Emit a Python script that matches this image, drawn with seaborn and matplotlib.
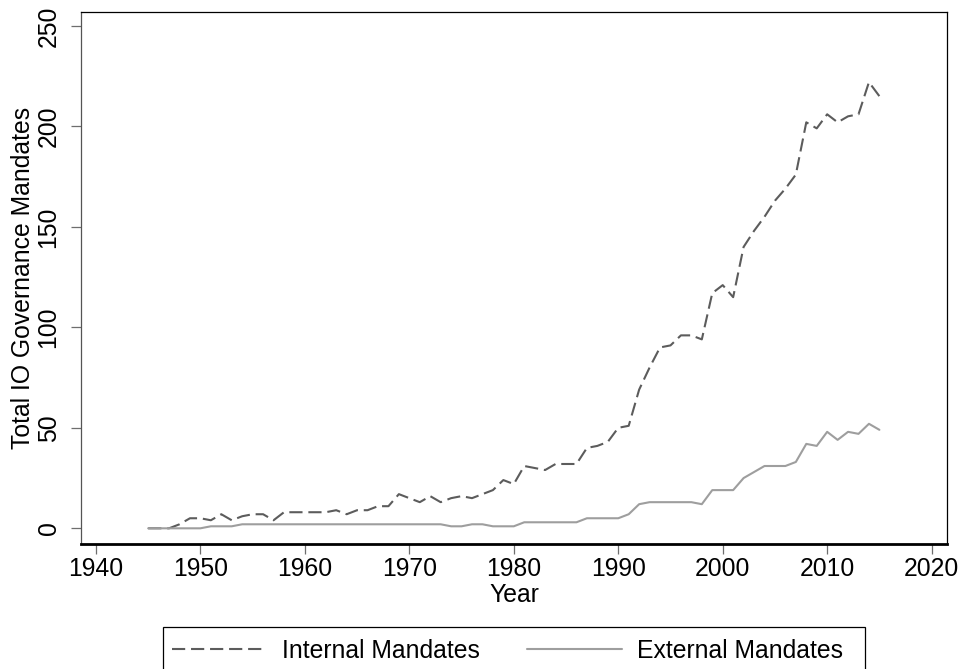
import numpy as np
import pandas as pd
import matplotlib
matplotlib.use("Agg")
import matplotlib.pyplot as plt
from matplotlib.patches import Rectangle
import seaborn as sns

years = list(range(1945, 2016))
internal = [0, 0, 0, 2, 5, 5, 4, 7, 4, 6,
            7, 7, 4, 8, 8, 8, 8, 8, 9, 7,
            9, 9, 11, 11, 17, 15, 13, 16, 13, 15,
            16, 15, 17, 19, 24, 22, 31, 30, 29, 32,
            32, 32, 40, 41, 43, 50, 51, 69, 80, 90,
            91, 96, 96, 94, 117, 121, 115, 140, 148, 155,
            163, 169, 176, 202, 199, 206, 202, 205, 206, 222,
            215]
external = [0, 0, 0, 0, 0, 0, 1, 1, 1, 2,
            2, 2, 2, 2, 2, 2, 2, 2, 2, 2,
            2, 2, 2, 2, 2, 2, 2, 2, 2, 1,
            1, 2, 2, 1, 1, 1, 3, 3, 3, 3,
            3, 3, 5, 5, 5, 5, 7, 12, 13, 13,
            13, 13, 13, 12, 19, 19, 19, 25, 28, 31,
            31, 31, 33, 42, 41, 48, 44, 48, 47, 52,
            49]
series_names = ["Internal Mandates", "External Mandates"]
x_ticks = [1940, 1950, 1960, 1970, 1980, 1990, 2000, 2010, 2020]
y_ticks = [0, 50, 100, 150, 200, 250]

df = pd.DataFrame({"Year": years, series_names[0]: internal, series_names[1]: external})
long = df.melt(id_vars="Year", var_name="Series", value_name="Value")

sns.set_theme(style="white")
plt.rcParams["font.family"] = ["Liberation Sans", "DejaVu Sans"]
plt.rcParams["lines.scale_dashes"] = False

FS = 17.8
W, H = 962, 669
fig = plt.figure(figsize=(W / 100, H / 100), dpi=100)
ax = fig.add_axes([80.7 / W, 1 - 544.3 / H, (947.3 - 80.7) / W, (544.3 - 12) / H])

sns.lineplot(data=long, x="Year", y="Value", hue="Series", style="Series",
             hue_order=series_names, style_order=series_names,
             palette={series_names[0]: "#5c5c5c", series_names[1]: "#9e9e9e"},
             dashes={series_names[0]: (9.5, 4.2), series_names[1]: ""},
             linewidth=1.5, ax=ax)

ax.set_xlim(1938.54, 2021.5)
ax.set_ylim(-7.96, 256.9)
ax.set_xticks(x_ticks)
ax.set_yticks(y_ticks)
ax.set_xticklabels([str(t) for t in x_ticks], fontsize=FS, color="black")
ax.set_yticklabels([str(t) for t in y_ticks], fontsize=FS, color="black",
                   rotation=90, va="center")
ax.tick_params(axis="both", which="major", direction="out", length=7.5, width=0.9,
               color="#6e6e6e", bottom=True, left=True, top=False, right=False)
ax.tick_params(axis="x", pad=1.5)
ax.tick_params(axis="y", pad=7)

ax.set_xlabel("Year", fontsize=FS, color="black")
ax.set_ylabel("Total IO Governance Mandates", fontsize=FS, color="black")
ax.xaxis.set_label_coords(0.5, -0.072)
ax.yaxis.set_label_coords(-0.053, 0.5)

for side in ["top", "right"]:
    ax.spines[side].set_visible(True)
    ax.spines[side].set_color("black")
    ax.spines[side].set_linewidth(0.9)
ax.spines["left"].set_color("#555555")
ax.spines["left"].set_linewidth(0.9)
ax.spines["bottom"].set_color("black")
ax.spines["bottom"].set_linewidth(2.0)
ax.grid(False)

handles, labels = ax.get_legend_handles_labels()
ax.get_legend().remove()
leg = fig.legend(handles, labels, loc="center left",
                 bbox_to_anchor=(171.7 / W, 1 - 651 / H), ncol=2,
                 frameon=False, fontsize=FS, handlelength=3.84, handletextpad=0.61,
                 columnspacing=1.93, borderpad=0, borderaxespad=0)
for t in leg.get_texts():
    t.set_color("black")

fig.patches.append(Rectangle((162.7 / W, 1 - 700 / H), (865 - 162.7) / W, (700 - 627) / H,
                             transform=fig.transFigure, fill=False,
                             edgecolor="black", linewidth=0.9))

fig.savefig("out.png", dpi=100, facecolor="white")
